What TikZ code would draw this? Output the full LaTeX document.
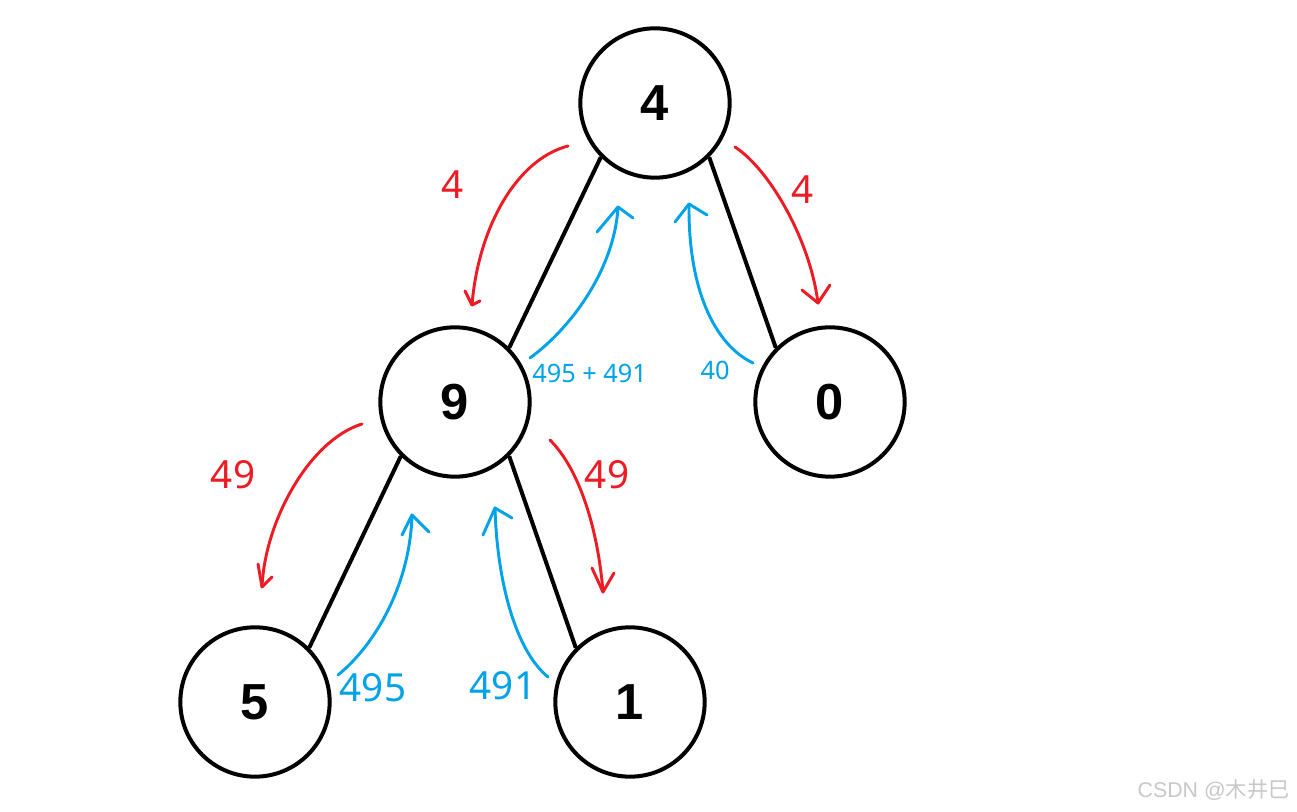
\documentclass[tikz,border=0pt]{standalone}
\usepackage{fontspec}
\setmainfont{Liberation Sans}
\newfontfamily\lblfont{Noto Sans}
\newfontfamily\cjkfont{Noto Sans CJK SC}
\definecolor{penred}{RGB}{237,28,36}
\definecolor{penblue}{RGB}{0,162,232}
\definecolor{wmgray}{RGB}{200,200,200}
\tikzset{
  treenode/.style={circle,draw=black,line width=3pt,minimum size=112pt,inner sep=0pt,font=\fontsize{38}{40}\selectfont\bfseries},
  treeedge/.style={draw=black,line width=3pt},
  redpen/.style={draw=penred,line width=2.2pt,line cap=round,line join=round},
  bluepen/.style={draw=penblue,line width=2.2pt,line cap=round,line join=round},
  biglbl/.style={font=\lblfont\fontsize{29}{30}\selectfont,inner sep=0pt},
  smalllbl/.style={font=\lblfont\fontsize{19}{20}\selectfont,inner sep=0pt,text=penblue},
}
\begin{document}
\begin{tikzpicture}[x=0.75pt,y=-0.75pt]
\useasboundingbox (0,0) rectangle (1297,812);
\fill[white] (0,0) rectangle (1297,812);
% nodes
\node[treenode] (n4) at (655,103) {4};
\node[treenode] (n9) at (455,402) {9};
\node[treenode] (n0) at (830,402) {0};
\node[treenode] (n5) at (255,702) {5};
\node[treenode] (n1) at (630,702) {1};
% edges
\draw[treeedge] (n4.-135) -- (n9.45);
\draw[treeedge] (n4.-45) -- (n0.135);
\draw[treeedge] (n9.-135) -- (n5.45);
\draw[treeedge] (n9.-45) -- (n1.135);
% red arrows (down)
\coordinate (sa) at (568,146); \coordinate (ra) at (472,305);
\draw[redpen] (sa) .. controls (515,160) and (478,230) .. (ra);
\draw[redpen] (465,291) -- (ra) -- (480,301);
\node[biglbl,text=penred] (la) at (453,185) {4};

\coordinate (sb) at (735,147); \coordinate (rb) at (818,303);
\draw[redpen] (sb) .. controls (770,170) and (810,240) .. (rb);
\draw[redpen] (802,290) -- (rb) -- (830,285);
\node[biglbl,text=penred] (lb) at (803,190) {4};

\coordinate (sc) at (362,424); \coordinate (rc) at (262,587);
\draw[redpen] (sc) .. controls (310,440) and (265,520) .. (rc);
\draw[redpen] (258,564) -- (rc) -- (272,577);
\node[biglbl,text=penred] (lc) at (233,475) {49};

\coordinate (sd) at (550,440); \coordinate (rd) at (603,592);
\draw[redpen] (sd) .. controls (580,470) and (598,530) .. (rd);
\draw[redpen] (592,568) -- (rd) -- (614,573);
\node[biglbl,text=penred] (ld) at (607,475) {49};

% blue arrows (up)
\coordinate (se) at (530,358); \coordinate (be) at (618,207);
\draw[bluepen] (se) .. controls (575,325) and (615,265) .. (be);
\draw[bluepen] (597,232) -- (be) -- (633,218);
\node[smalllbl,anchor=west] (le) at (532,373) {495 + 491};

\coordinate (sf) at (753,363); \coordinate (bf) at (689,204);
\draw[bluepen] (sf) .. controls (715,345) and (688,290) .. (bf);
\draw[bluepen] (675,222) -- (bf) -- (707,215);
\node[smalllbl] (lf) at (715,370) {40};

\coordinate (sg) at (338,675); \coordinate (bg) at (412,515);
\draw[bluepen] (sg) .. controls (375,645) and (410,585) .. (bg);
\draw[bluepen] (402,535) -- (bg) -- (429,532);
\node[biglbl,text=penblue] (lg) at (373,688) {495};

\coordinate (sh) at (548,677); \coordinate (bh) at (495,508);
\draw[bluepen] (sh) .. controls (515,650) and (497,580) .. (bh);
\draw[bluepen] (483,535) -- (bh) -- (512,518);
\node[biglbl,text=penblue] (lh) at (503,686) {491};

% watermark
\node[anchor=east,inner sep=0pt,text=wmgray,font=\fontsize{16}{18}\selectfont] (wm) at (1290,790) {CSDN @{\cjkfont 木井巳}};
\end{tikzpicture}
\end{document}
